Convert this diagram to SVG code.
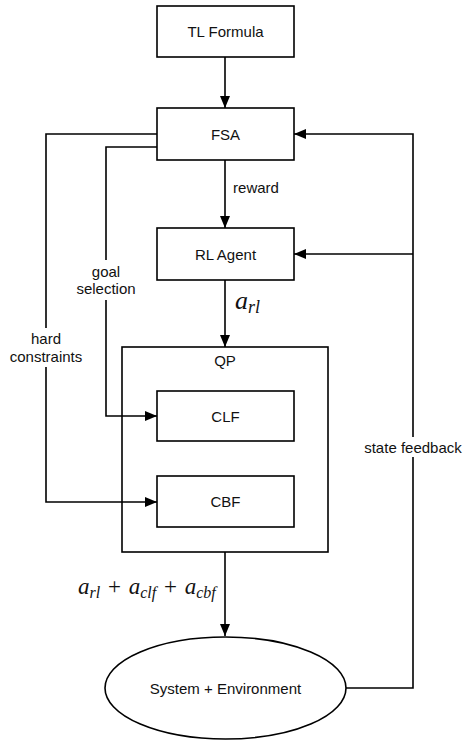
<svg xmlns="http://www.w3.org/2000/svg" width="463" height="743" viewBox="0 0 463 743">
  <defs>
    <style>
      .box { fill: #ffffff; stroke: #000000; stroke-width: 1.6; }
      .frame { fill: none; stroke: #000000; stroke-width: 1.6; }
      .wire { fill: none; stroke: #000000; stroke-width: 1.6; }
      .lbl { font-family: "Liberation Sans", Arial, sans-serif; font-size: 15px; fill: #111111; text-anchor: middle; dominant-baseline: central; }
      .math { font-family: "Liberation Serif", "Times New Roman", serif; font-style: italic; fill: #111111; }
    </style>
    <marker id="head" markerWidth="12" markerHeight="10" refX="12" refY="5" orient="auto" markerUnits="userSpaceOnUse">
      <path d="M0,0 L12,5 L0,10 Z" fill="#000000"/>
    </marker>
  </defs>
  <rect width="463" height="743" fill="#ffffff"/>

  <g id="tl-formula">
    <rect class="box" x="157" y="6" width="137" height="51"/>
    <text class="lbl" x="225.5" y="31.5">TL Formula</text>
  </g>
  <g id="fsa">
    <rect class="box" x="157" y="108" width="137" height="52"/>
    <text class="lbl" x="225.5" y="134">FSA</text>
  </g>
  <g id="rl-agent">
    <rect class="box" x="157" y="228" width="137" height="52"/>
    <text class="lbl" x="225.5" y="254">RL Agent</text>
  </g>
  <g id="qp">
    <rect class="frame" x="122" y="347" width="206" height="205"/>
    <text class="lbl" x="225" y="360">QP</text>
  </g>
  <g id="clf">
    <rect class="box" x="157" y="391" width="137" height="50"/>
    <text class="lbl" x="225.5" y="416">CLF</text>
  </g>
  <g id="cbf">
    <rect class="box" x="157" y="476" width="137" height="51"/>
    <text class="lbl" x="225.5" y="501.5">CBF</text>
  </g>
  <g id="system-environment">
    <ellipse class="box" cx="225.5" cy="688" rx="120.5" ry="51"/>
    <text class="lbl" x="225.5" y="688">System + Environment</text>
  </g>

  <!-- connectors -->
  <g id="connectors">
    <path class="wire" d="M225,57 V108" marker-end="url(#head)"/>
    <path class="wire" d="M225,160 V228" marker-end="url(#head)"/>
    <path class="wire" d="M225,280 V347" marker-end="url(#head)"/>
    <path class="wire" d="M225,552 V636" marker-end="url(#head)"/>
    <!-- hard constraints -->
    <path class="wire" d="M157,134 H46 V328"/>
    <path class="wire" d="M46,367 V502 H157" marker-end="url(#head)"/>
    <!-- goal selection -->
    <path class="wire" d="M157,147 H106 V260"/>
    <path class="wire" d="M106,300 V416 H157" marker-end="url(#head)"/>
    <!-- state feedback -->
    <path class="wire" d="M346,688 H413 V457"/>
    <path class="wire" d="M413,437 V134 H294" marker-end="url(#head)"/>
    <path class="wire" d="M413,254 H294" marker-end="url(#head)"/>

    <text class="lbl" x="256" y="187">reward</text>
    <text class="lbl" x="106" y="271">goal</text>
    <text class="lbl" x="106" y="288">selection</text>
    <text class="lbl" x="46" y="338">hard</text>
    <text class="lbl" x="46" y="356">constraints</text>
    <text class="lbl" x="413" y="447">state feedback</text>

    <text class="math" x="235" y="309" font-size="26">a<tspan font-size="18" dy="4">rl</tspan></text>
    <text class="math" x="78" y="594" font-size="23" word-spacing="2">a<tspan font-size="16" dy="4">rl</tspan><tspan font-style="normal" font-size="23" dy="-4"> + </tspan>a<tspan font-size="16" dy="4">clf</tspan><tspan font-style="normal" font-size="23" dy="-4"> + </tspan>a<tspan font-size="16" dy="4">cbf</tspan></text>
  </g>
</svg>
